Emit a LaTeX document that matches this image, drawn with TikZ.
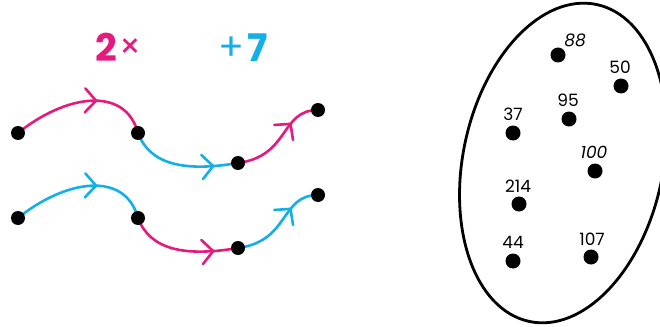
\documentclass[tikz,border=0pt]{standalone}
\usepackage{fontspec}
\setmainfont{Poppins}
\usetikzlibrary{decorations.markings}
\definecolor{pinkc}{RGB}{230,25,125}
\definecolor{bluec}{RGB}{20,175,230}
\begin{document}
\begin{tikzpicture}[x=1pt,y=-1pt,
  dot/.style={circle,fill=black,inner sep=0pt,minimum size=14pt},
  bigdot/.style={circle,fill=black,inner sep=0pt,minimum size=15pt},
  curve/.style={line width=2.6pt},
  arrowat/.style={postaction={decorate},decoration={markings,mark=at position #1 with {\draw[line width=2.6pt,line cap=round,line join=round] (-11pt,-12pt) -- (0pt,0pt) -- (-11pt,12pt);}}},
  num/.style={font=\fontsize{17}{17}\selectfont, inner sep=0pt},
  itnum/.style={font=\itshape\fontsize{17}{17}\selectfont, inner sep=0pt},
  bignum/.style={font=\bfseries\fontsize{38}{38}\selectfont, inner sep=0pt, anchor=base},
  op/.style={font=\fontsize{#1}{#1}\selectfont, inner sep=0pt}]
\useasboundingbox (0,0) rectangle (660,326);
% top labels
\node[bignum,pinkc] (two) at (106,62) {2};
\node[op=34,pinkc] (times) at (130,49) {×};
\node[op=38,bluec] (plus) at (231,49) {+};
\node[bignum,bluec] (seven) at (258,62) {7};
% coordinates of chain points
\coordinate (a1) at (18,133);
\coordinate (b1) at (138,133);
\coordinate (c1) at (238,163);
\coordinate (d1) at (318,110);
\coordinate (a2) at (18,218);
\coordinate (b2) at (138,218);
\coordinate (c2) at (238,248);
\coordinate (d2) at (318,195);
% row 1
\draw[curve,pinkc,arrowat=0.6] (a1) .. controls +(47,-38) and +(-13,-48) .. (b1);
\draw[curve,bluec,arrowat=0.78] (b1) .. controls +(12,32) and +(-53,9) .. (c1);
\draw[curve,pinkc,arrowat=0.68] (c1) .. controls +(52,-7) and +(-38,0) .. (d1);
% row 2
\draw[curve,bluec,arrowat=0.6] (a2) .. controls +(47,-38) and +(-13,-48) .. (b2);
\draw[curve,pinkc,arrowat=0.78] (b2) .. controls +(12,32) and +(-53,9) .. (c2);
\draw[curve,bluec,arrowat=0.68] (c2) .. controls +(52,-7) and +(-38,0) .. (d2);
% dots
\foreach \p in {a1,b1,c1,d1,a2,b2,c2,d2}{\node[dot] (n\p) at (\p) {};}
% ellipse set
\draw[line width=2.8pt] (563,163) ellipse[x radius=100pt, y radius=162pt, rotate=-12];
\node[bigdot] (p88) at (558,55) {};
\node[itnum] (l88) at (575,40) {88};
\node[bigdot] (p50) at (621,86) {};
\node[num] (l50) at (620,67) {50};
\node[bigdot] (p95) at (569,119) {};
\node[num] (l95) at (568,100) {95};
\node[bigdot] (p37) at (513,133) {};
\node[num] (l37) at (513,114) {37};
\node[bigdot] (p100) at (595,171) {};
\node[itnum] (l100) at (594,152) {100};
\node[bigdot] (p214) at (519,204) {};
\node[num] (l214) at (518,186) {214};
\node[bigdot] (p44) at (513,261) {};
\node[num] (l44) at (513,242) {44};
\node[bigdot] (p107) at (591,257) {};
\node[num] (l107) at (592,239) {107};
\end{tikzpicture}
\end{document}
